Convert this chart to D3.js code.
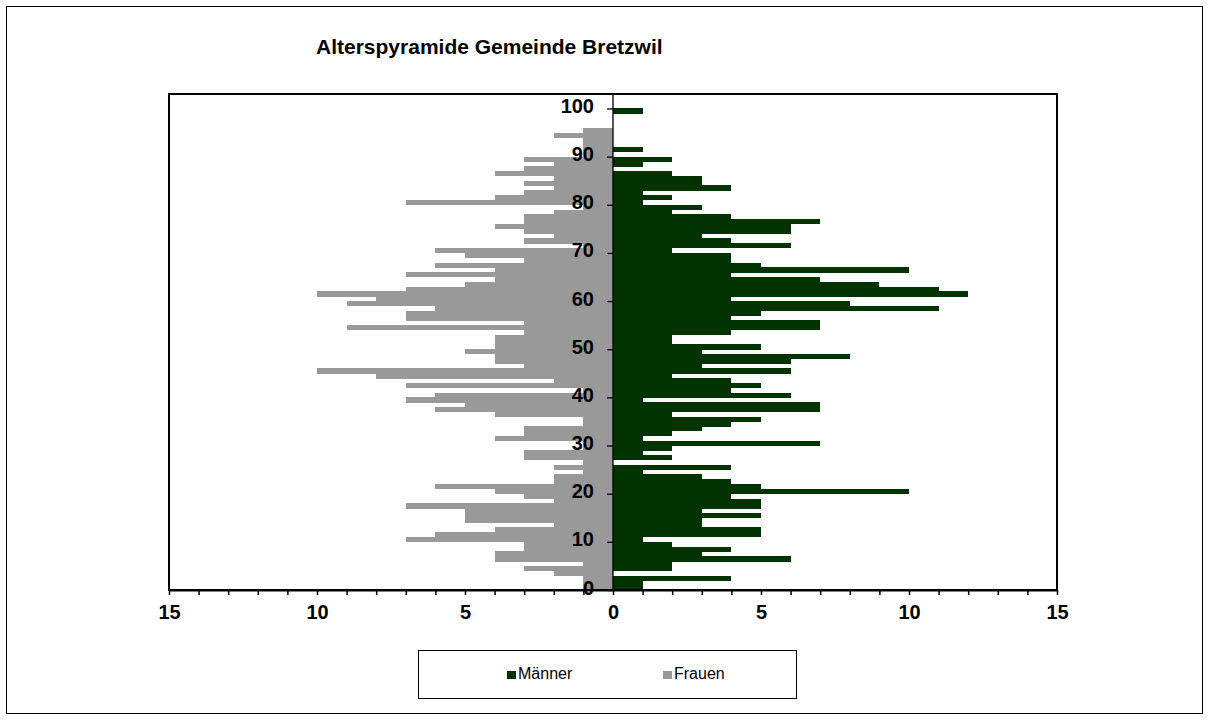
<!DOCTYPE html>
<html>
<head>
<meta charset="utf-8">
<script src="https://cdn.jsdelivr.net/npm/d3@7"></script>
<style>
	body{margin:0;background:#fff}
	svg{display:block}
	text{font-family:"Liberation Sans",Arial,sans-serif}
</style>
</head>
<body>
<div id="chart"></div>
<script>
// Alter 0..99 (Kategorien der Pyramide)
var alter = d3.range(0, 100)

// Männer pro Altersjahr, Alter 0..99
var maenner = [
	1, 1, 4, 0, 2, 2, 6, 3, 4, 2,
	1, 5, 5, 3, 3, 5, 3, 5, 5, 4,
	10, 5, 4, 3, 1, 4, 0, 2, 1, 2,
	7, 1, 2, 3, 4, 5, 2, 7, 7, 1,
	6, 4, 5, 4, 2, 6, 3, 6, 8, 3,
	5, 2, 2, 4, 7, 7, 4, 5, 11, 8,
	4, 12, 11, 9, 7, 4, 10, 5, 4, 4,
	2, 6, 4, 3, 6, 6, 7, 4, 2, 3,
	1, 2, 1, 4, 3, 3, 2, 0, 1, 2,
	0, 1, 0, 0, 0, 0, 0, 0, 0, 1
]

// Frauen pro Altersjahr, Alter 0..99
var frauen = [
	1, 1, 1, 2, 3, 1, 4, 4, 3, 3,
	7, 6, 4, 2, 5, 5, 5, 7, 2, 3,
	4, 6, 2, 2, 1, 2, 1, 3, 3, 1,
	1, 4, 3, 3, 1, 1, 4, 6, 5, 7,
	6, 1, 7, 2, 8, 10, 3, 4, 4, 5,
	4, 4, 4, 3, 9, 3, 7, 7, 6, 9,
	8, 10, 7, 5, 4, 7, 4, 6, 3, 5,
	6, 1, 3, 2, 3, 4, 3, 3, 2, 1,
	7, 4, 3, 2, 3, 2, 4, 3, 2, 3,
	1, 1, 1, 1, 2, 1, 0, 0, 0, 0
]

var yTicks = [0, 10, 20, 30, 40, 50, 60, 70, 80, 90, 100]
var xTicks = d3.range(-15, 16)
var legende = ["Männer", "Frauen"]
var farben = ["#003300", "#999999"]

var width = 1208, height = 720
var plot = {left: 169, right: 1057, top: 94, bottom: 590}

var svg = d3.select("#chart")
	.append("svg")
	.attr("width", width)
	.attr("height", height)

// Rahmen um das ganze Diagramm
svg.append("rect")
	.attr("x", 6.5).attr("y", 6.5)
	.attr("width", 1196).attr("height", 707)
	.attr("fill", "none").attr("stroke", "#000").attr("stroke-width", 1)

svg.append("text")
	.attr("x", 316).attr("y", 54)
	.attr("font-size", 21).attr("font-weight", "bold")
	.text("Alterspyramide Gemeinde Bretzwil")

var x = d3.scaleLinear()
	.domain([-15, 15])
	.range([plot.left, plot.right])

var y = d3.scaleLinear()
	.domain([0, 103])
	.range([plot.bottom, plot.top])

var g = svg.append("g").attr("shape-rendering", "crispEdges")

// Frauen nach links
g.selectAll(".frau")
	.data(alter)
	.enter()
	.append("rect")
	.attr("class", "frau")
	.attr("x", function(a){ return x(-frauen[a]) })
	.attr("y", function(a){ return y(a + 1) })
	.attr("width", function(a){ return x(0) - x(-frauen[a]) })
	.attr("height", function(a){ return y(a) - y(a + 1) + 0.4 })
	.attr("fill", farben[1])

// Männer nach rechts
g.selectAll(".mann")
	.data(alter)
	.enter()
	.append("rect")
	.attr("class", "mann")
	.attr("x", x(0))
	.attr("y", function(a){ return y(a + 1) })
	.attr("width", function(a){ return x(maenner[a]) - x(0) })
	.attr("height", function(a){ return y(a) - y(a + 1) + 0.4 })
	.attr("fill", farben[0])

// Plotbereich
svg.append("rect")
	.attr("x", plot.left).attr("y", plot.top)
	.attr("width", plot.right - plot.left)
	.attr("height", plot.bottom - plot.top)
	.attr("fill", "none").attr("stroke", "#000").attr("stroke-width", 2)

// X-Achse
var xAxis = svg.append("g")
	.attr("transform", "translate(0," + plot.bottom + ")")
	.call(d3.axisBottom(x)
		.tickValues(xTicks)
		.tickSize(5)
		.tickSizeOuter(0)
		.tickFormat(function(d){ return d % 5 == 0 ? Math.abs(d) : "" }))
xAxis.select(".domain").attr("stroke-width", 2)
xAxis.selectAll("line").attr("stroke-width", 1.5)
xAxis.selectAll("text")
	.attr("font-size", 20).attr("font-weight", "bold")
	.attr("font-family", "Liberation Sans, Arial, sans-serif")
	.attr("fill", "#000")
	.attr("dy", "1.05em")

// Y-Achse in der Mitte
var band = y(0) - y(1)
var yAxis = svg.append("g")
	.attr("transform", "translate(" + x(0) + ",0)")
	.call(d3.axisLeft(y)
		.tickValues(yTicks)
		.tickSize(6)
		.tickSizeOuter(0)
		.tickPadding(13))
yAxis.select(".domain")
	.attr("d", "M0," + plot.top + "V" + plot.bottom)
	.attr("stroke-width", 1.3)
yAxis.selectAll("line").attr("stroke-width", 1.3)
yAxis.selectAll("text")
	.attr("font-size", 20).attr("font-weight", "bold")
	.attr("font-family", "Liberation Sans, Arial, sans-serif")
	.attr("fill", "#000")
	.attr("y", -band / 2)

// Legende
var leg = svg.append("g")
leg.append("rect")
	.attr("x", 418.5).attr("y", 650.5)
	.attr("width", 378).attr("height", 48)
	.attr("fill", "#fff").attr("stroke", "#000").attr("stroke-width", 1)

var legX = [507, 663]
legende.forEach(function(name, i){
	leg.append("rect")
		.attr("x", legX[i]).attr("y", 671)
		.attr("width", 9).attr("height", 8)
		.attr("fill", farben[i])
	leg.append("text")
		.attr("x", legX[i] + 11).attr("y", 679)
		.attr("font-size", 16)
		.text(name)
})
</script>
</body>
</html>
